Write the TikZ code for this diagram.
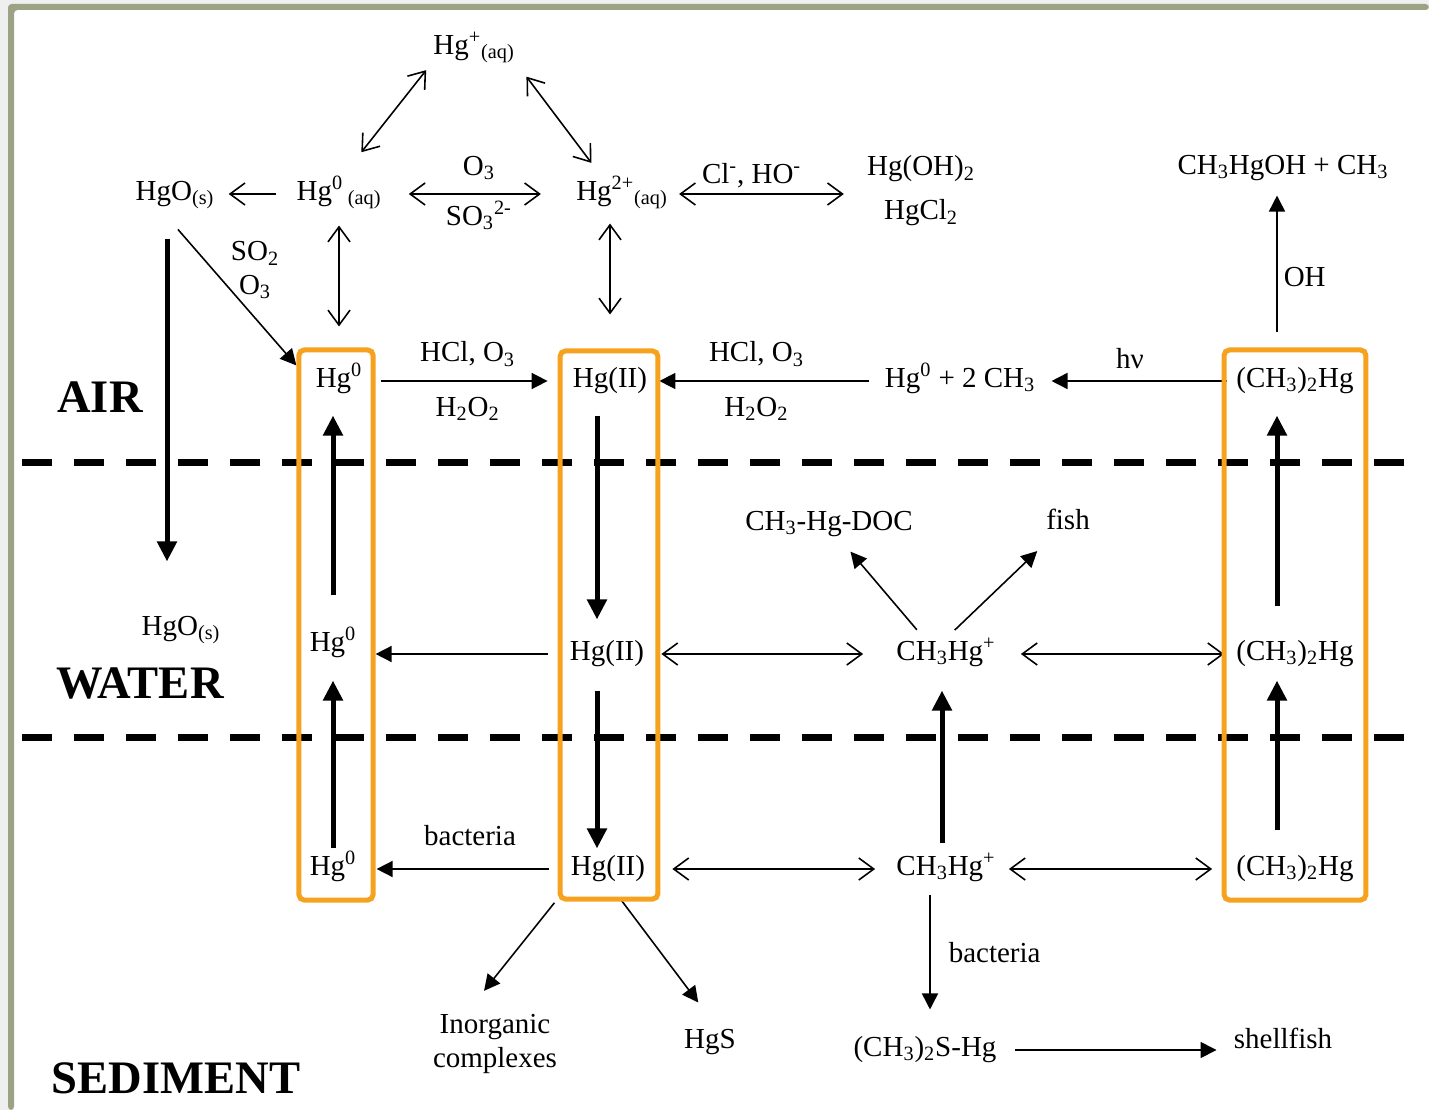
\documentclass[tikz,border=0pt]{standalone}
\usepackage{fontspec}
\setmainfont{Liberation Serif}
\usetikzlibrary{arrows.meta,positioning,fit}
\definecolor{frameGreen}{HTML}{9CA385}
\definecolor{pageGray}{HTML}{EFEFEF}
\definecolor{boxOrange}{HTML}{F6A21E}
\newcommand{\spr}[1]{\textsuperscript{#1}}
\newcommand{\sbs}[1]{\textsubscript{#1}}

\begin{document}
\begin{tikzpicture}[x=0.2mm,y=-0.2mm,every node/.style={font=\fontsize{16.5}{19}\selectfont}]
      \tikzstyle{chem}=[inner sep=0pt,text height=11pt,text depth=4pt]
      \tikzstyle{lbl}=[inner sep=0pt,text height=11pt,text depth=4pt]
      \tikzstyle{stack}=[inner sep=0pt,align=center]
      \tikzstyle{zone}=[inner sep=0pt,font=\fontsize{26.5}{28}\selectfont\bfseries]
      \tikzstyle{rxn}=[line width=0.9pt,-{Triangle[length=3.2mm,width=3.2mm]}]
      \tikzstyle{rxnopen}=[line width=0.9pt,-{Straight Barb[length=3mm,width=4.4mm]}]
      \tikzstyle{rev}=[line width=0.9pt,{Straight Barb[length=3mm,width=4.4mm]}-{Straight Barb[length=3mm,width=4.4mm]}]
      \tikzstyle{flux}=[line width=1mm,-{Triangle[length=4mm,width=3.8mm]}]
      \tikzstyle{layer}=[line width=1.4mm,dash pattern=on 6mm off 4.4mm]
      \tikzstyle{hold}=[draw=boxOrange,line width=1mm,rounded corners=3pt]

      \useasboundingbox (0,0) rectangle (1429,1110);
      \fill[pageGray] (0,0) rectangle (1429,1110);
      \fill[white] (14,10) rectangle (1429,1110);
      \fill[frameGreen,rounded corners=2pt] (8,1110) -- (8,4) -- (1429,4) -- (1429,10) -- (14,10) -- (14,1110) -- cycle;

      % atmosphere, aqueous phase
      \node[chem] (hgp) at (474,48) {Hg\spr{+}\sbs{(aq)}};
      \node[chem] (hgos) at (175,194) {HgO\sbs{(s)}};
      \node[chem] (hgz) at (339,194) {Hg\spr{0}\,\sbs{(aq)}};
      \node[chem] (hgtp) at (622,194) {Hg\spr{2+}\sbs{(aq)}};
      \node[stack,font=\fontsize{16.5}{25}\selectfont] (prod) at (921,191) {Hg(OH)\sbs{2}\\HgCl\sbs{2}};
      \node[chem] (mhoh) at (1283,168) {CH\sbs{3}HgOH + CH\sbs{3}};

      % air
      \node[zone] (air) at (100,397) {AIR};
      \node[chem] (hga) at (339,381) {Hg\spr{0}};
      \node[chem] (hgiia) at (610,381) {Hg(II)};
      \node[chem] (hgch) at (960,381) {Hg\spr{0} + 2 CH\sbs{3}};
      \node[chem] (dmha) at (1295,381) {(CH\sbs{3})\sbs{2}Hg};

      % water
      \node[zone] (water) at (140,683) {WATER};
      \node[chem] (hgos2) at (181,629) {HgO\sbs{(s)}};
      \node[chem] (hgw) at (333,645) {Hg\spr{0}};
      \node[chem] (hgiiw) at (607,654) {Hg(II)};
      \node[chem] (mhw) at (946,654) {CH\sbs{3}Hg\spr{+}};
      \node[chem] (dmhw) at (1295,654) {(CH\sbs{3})\sbs{2}Hg};
      \node[chem] (doc) at (829,524) {CH\sbs{3}-Hg-DOC};
      \node[chem] (fish) at (1068,523) {fish};

      % sediment
      \node[zone] (sed) at (176,1078) {SEDIMENT};
      \node[chem] (hgs) at (333,869) {Hg\spr{0}};
      \node[chem] (hgiis) at (608,869) {Hg(II)};
      \node[chem] (mhs) at (946,869) {CH\sbs{3}Hg\spr{+}};
      \node[chem] (dmhs) at (1295,869) {(CH\sbs{3})\sbs{2}Hg};
      \node[stack] (inorg) at (495,1044) {Inorganic\\complexes};
      \node[chem] (hgsulf) at (710,1042) {HgS};
      \node[chem] (dmsh) at (925,1050) {(CH\sbs{3})\sbs{2}S-Hg};
      \node[chem] (shell) at (1283,1042) {shellfish};

      \draw[layer] (22,462) -- (1410,462);
      \draw[layer] (22,737) -- (1410,737);

      % gas / aqueous exchanges
      \draw[rev,shorten <=2.2mm,shorten >=7.2mm] (hgp.south west) -- (hgz.north);
      \draw[rev,shorten <=3.8mm,shorten >=4.4mm] (hgp.south east) -- (hgtp.142);
      \draw[rxnopen,shorten <=4mm,shorten >=2.8mm] (hgz.west) -- (hgos.east);
      \draw[rev,shorten <=5.4mm,shorten >=7mm] (hgz.east) -- (hgtp.west)
            node[lbl,midway,above=2.2mm]{O\sbs{3}} node[lbl,midway,below=2.2mm]{SO\sbs{3}\spr{2-}};
      \draw[rev,shorten <=2.2mm,shorten >=4.6mm] (hgtp.east) -- (hgtp.east -| prod.west)
            node[lbl,pos=.42,above=0.6mm]{Cl\spr{-}, HO\spr{-}};
      \draw[rev,shorten <=3.6mm,shorten >=8.2mm] (hgz.south) -- (hga.north);
      \draw[rev,shorten <=3.2mm,shorten >=10.6mm] (hgtp.south -| hgiia.north) -- (hgiia.north);
      \draw[rxn,shorten <=5.8mm,shorten >=5.8mm] (hgos.-140) -- (hga.195)
            node[stack,pos=.35,right=3.3mm]{SO\sbs{2}\\O\sbs{3}};
      \draw[flux,shorten <=6.2mm,shorten >=10.8mm] ([xshift=-1.6mm]hgos.south) -- ([xshift=-1.6mm]hgos.south |- hgos2.north);

      % air reactions
      \draw[rxn,shorten <=3.6mm,shorten >=5mm] (hga.east) -- (hgiia.west)
            node[lbl,midway,above=2.3mm]{HCl, O\sbs{3}} node[lbl,midway,below=3mm]{H\sbs{2}O\sbs{2}};
      \draw[rxn,shorten <=3mm,shorten >=2.4mm] (hgch.west) -- (hgiia.east)
            node[lbl,pos=.54,above=2.3mm]{HCl, O\sbs{3}} node[lbl,pos=.54,below=3mm]{H\sbs{2}O\sbs{2}};
      \draw[rxn,shorten <=1.8mm,shorten >=3.2mm] (dmha.west) -- (hgch.east)
            node[lbl,pos=.53,above=1mm]{hν};
      \draw[rxn,shorten <=7mm,shorten >=2.8mm] ([xshift=-3.6mm]dmha.north) -- ([xshift=-3.6mm]dmha.north |- mhoh.south)
            node[lbl,pos=.47,right=1.2mm]{OH};

      % water reactions
      \draw[rxn,shorten <=4.4mm,shorten >=3.8mm] (hgiiw.west) -- (hgiiw.west -| hgw.east);
      \draw[rev,shorten <=3.4mm,shorten >=6.6mm] (hgiiw.east) -- (mhw.west);
      \draw[rev,shorten <=5mm,shorten >=2.4mm] (mhw.east) -- (dmhw.west);
      \draw[rxn,shorten <=2.8mm,shorten >=3.7mm] (mhw.146) -- (doc.-55);
      \draw[rxn,shorten <=3mm,shorten >=4.2mm] (mhw.99) -- (fish.-139);

      % vertical fluxes
      \draw[flux,shorten <=7.2mm,shorten >=4.2mm] (hgw.north) -- (hgw.north |- hga.south);
      \draw[flux,shorten <=1.4mm,shorten >=4.4mm] (hgs.north) -- (hgw.south);
      \draw[flux,shorten <=4.2mm,shorten >=4.2mm] ([xshift=-2.6mm]hgiia.south) -- ([xshift=-2.6mm]hgiia.south |- hgiiw.north);
      \draw[flux,shorten <=4.6mm,shorten >=1.4mm] ([xshift=-2mm]hgiiw.south) -- ([xshift=-2mm]hgiiw.south |- hgiis.north);
      \draw[flux,shorten <=2.4mm,shorten >=4.6mm] ([xshift=-0.8mm]mhs.north) -- ([xshift=-0.8mm]mhw.south);
      \draw[flux,shorten <=6.8mm,shorten >=4.2mm] ([xshift=-3.6mm]dmhw.north) -- ([xshift=-3.6mm]dmha.south);
      \draw[flux,shorten <=5mm,shorten >=2.6mm] ([xshift=-3.6mm]dmhs.north) -- ([xshift=-3.6mm]dmhw.south);

      % sediment reactions
      \draw[rxn,shorten <=4.4mm,shorten >=4mm] (hgiis.west) -- (hgs.east)
            node[lbl,pos=.47,above=3.2mm]{bacteria};
      \draw[rev,shorten <=5.4mm,shorten >=4.2mm] (hgiis.east) -- (mhs.west);
      \draw[rev,shorten <=2.6mm,shorten >=4.8mm] (mhs.east) -- (dmhs.west);
      \draw[rxn,shorten <=5.2mm,shorten >=6mm] (hgiis.south west) -- (inorg.135);
      \draw[rxn,shorten <=4.3mm,shorten >=6.5mm] (hgiis.south) -- (hgsulf.60);
      \draw[rxn,shorten <=2.4mm,shorten >=5.4mm] ([xshift=-3.2mm]mhs.south) -- ([xshift=-3.2mm]mhs.south |- dmsh.north)
            node[lbl,pos=.48,right=3.6mm]{bacteria};
      \draw[rxn,shorten <=3.6mm,shorten >=3.4mm] (dmsh.east) -- (dmsh.east -| shell.west);

      % highlighted columns
      \node[hold,fit=(hga)(hgs),inner xsep=2.1mm,inner ysep=3.5mm] (colhg) {};
      \node[hold,fit=(hgiia)(hgiis),inner xsep=2.1mm,inner ysep=3.3mm] (colhgii) {};
      \node[hold,fit=(dmha)(dmhs),inner xsep=2.4mm,inner ysep=3.5mm] (coldm) {};
    \end{tikzpicture}
\end{document}
